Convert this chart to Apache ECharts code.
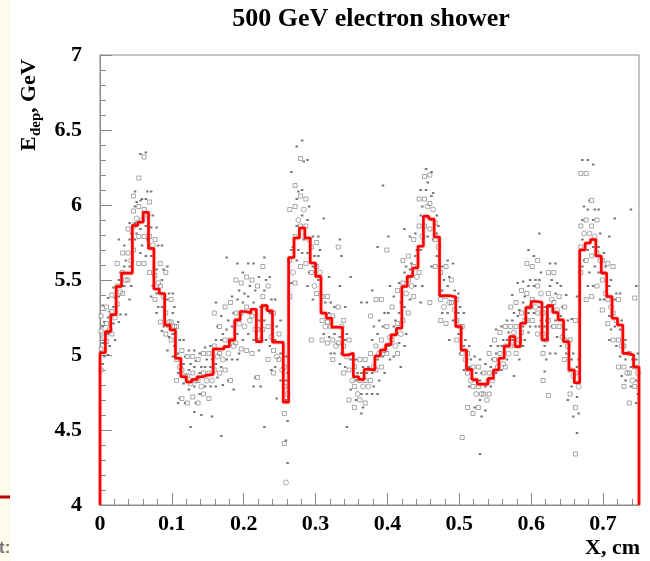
<!DOCTYPE html>
<html>
<head>
<meta charset="utf-8">
<script src="https://cdn.jsdelivr.net/npm/echarts@6/dist/echarts.min.js"></script>
<style>
html,body{margin:0;padding:0;background:#fff;}
#chart{width:650px;height:561px;}
</style>
</head>
<body>
<div id="chart"></div>
<script>
// ---- data ----
const titleText = '500 GeV electron shower';
const xTitle = 'X, cm';
const xRange = [0, 0.75];
const yRange = [4, 7];
const binWidth = 0.0075;

// histogram (red step line), one value per bin of width 0.0075 cm
const histValues = [
  5.015, 5.156, 5.268, 5.457, 5.546, 5.546, 5.863, 5.885, 5.952, 5.71,
  5.44, 5.41, 5.20, 5.167, 4.978, 4.855, 4.82, 4.837, 4.855, 4.866,
  4.87, 5.04, 5.04, 5.056, 5.10, 5.234, 5.29, 5.28, 5.305, 5.089,
  5.33, 5.295, 5.085, 5.085, 4.685, 5.65, 5.78, 5.847, 5.78, 5.613,
  5.524, 5.279, 5.245, 5.185, 5.185, 5.0, 5.011, 4.855, 4.837, 4.904,
  4.90, 4.993, 5.033, 5.069, 5.134, 5.178, 5.457, 5.524, 5.58, 5.725,
  5.925, 5.907, 5.787, 5.395, 5.395, 5.386, 5.19, 5.033, 4.904, 4.837,
  4.806, 4.806, 4.844, 4.90, 4.978, 5.06, 5.123, 5.056, 5.212, 5.317,
  5.357, 5.352, 5.10, 5.33, 5.283, 5.234, 5.089, 4.90, 4.815, 5.70,
  5.747, 5.77, 5.66, 5.546, 5.39, 5.245, 5.20, 5.011, 5.0, 4.92
];

// scattered event points (grey markers), listed per bin
const scatterByBin = [
  [5.33,5.26,5.22,5.19,5.16,5.12,5.08,5.04,4.99,4.94,4.90],
  [5.38,5.32,5.29,5.25,5.21,5.17,5.14,5.09,5.06,5.00],
  [5.45,5.40,5.38,5.32,5.29,5.25,5.21,5.14,5.10],
  [5.77,5.61,5.55,5.50,5.46,5.42,5.39,5.34,5.27,5.22],
  [5.73,5.68,5.63,5.59,5.55,5.50,5.46,5.41,5.27],
  [5.88,5.84,5.81,5.77,5.68,5.63,5.59,5.50,5.46,5.37],
  [6.09,6.06,6.02,5.99,5.96,5.91,5.88,5.86,5.81,5.77,5.70],
  [6.34,6.18,6.04,6.03,5.99,5.90,5.84,5.79,5.73,5.68,5.61],
  [6.35,6.32,6.09,6.04,5.97,5.93,5.86,5.79,5.77,5.66,5.61],
  [6.09,6.02,5.93,5.85,5.79,5.73,5.66,5.55,5.46,5.39],
  [5.85,5.77,5.73,5.57,5.53,5.48,5.41,5.37,5.32,5.28],
  [5.73,5.61,5.57,5.50,5.46,5.39,5.32,5.22,5.19,5.16],
  [5.59,5.55,5.41,5.37,5.28,5.22,5.19,5.14,5.12,5.03],
  [5.41,5.37,5.32,5.28,5.22,5.19,5.14,5.10,5.06,4.99],
  [5.22,5.19,5.10,5.01,4.97,4.92,4.88,4.83,4.71,4.68],
  [5.10,5.03,4.99,4.94,4.90,4.86,4.81,4.71,4.68],
  [5.03,4.99,4.94,4.90,4.86,4.81,4.77,4.68,4.52],
  [5.03,4.99,4.96,4.92,4.88,4.83,4.79,4.72,4.68,4.62],
  [5.01,4.97,4.92,4.88,4.83,4.79,4.74,4.68,4.60],
  [5.05,5.01,4.97,4.92,4.88,4.83,4.79,4.74],
  [5.06,5.01,4.97,4.92,4.88,4.83,4.79,4.71,4.59],
  [5.35,5.28,5.19,5.10,5.06,4.99,4.94,4.90,4.85,4.79],
  [5.26,5.19,5.14,5.10,5.01,4.97,4.92,4.88,4.80,4.46],
  [5.65,5.32,5.23,5.17,5.10,5.01,4.97,4.90,4.83],
  [5.39,5.35,5.28,5.19,5.10,5.06,4.97,4.83,4.77],
  [5.61,5.50,5.43,5.37,5.28,5.21,5.14,5.08,5.01,4.97],
  [5.55,5.48,5.41,5.35,5.28,5.19,5.10,5.04],
  [5.61,5.52,5.46,5.39,5.32,5.23,5.14,5.03],
  [5.61,5.50,5.43,5.35,5.26,5.17,5.10,5.01,4.85,4.79],
  [5.52,5.46,5.32,5.23,5.17,5.10,5.03,4.85,4.79],
  [5.65,5.59,5.50,5.43,5.39,5.32,5.23,5.17,5.10,4.52],
  [5.52,5.46,5.37,5.28,5.19,5.12,5.06,4.97,4.90],
  [5.37,5.28,5.19,5.10,5.03,4.99,4.92,4.88,4.71],
  [5.23,5.14,5.08,5.01,4.97,4.90,4.83],
  [4.99,4.92,4.88,4.83,4.79,4.74,4.70,4.61,4.56,4.43,4.41,4.28,4.15],
  [6.22,5.97,5.72,5.70,5.63,5.55,5.48,5.39],
  [6.39,6.13,6.09,6.04,5.99,5.90,5.86,5.79,5.70,5.63,5.48],
  [6.43,6.31,6.29,6.10,6.06,5.97,5.93,5.86,5.77,5.68,5.59],
  [6.30,6.04,5.99,5.90,5.86,5.77,5.68,5.61,5.55,5.46],
  [5.79,5.72,5.66,5.59,5.55,5.46,5.37,5.10],
  [5.79,5.75,5.70,5.66,5.59,5.55,5.50,5.41],
  [5.91,5.39,5.35,5.28,5.23,5.19,5.14,5.10],
  [5.52,5.39,5.35,5.28,5.22,5.19,5.12,5.08,5.01],
  [5.32,5.26,5.19,5.14,5.10,5.06,5.01,4.97],
  [5.77,5.72,5.66,5.46,5.32,5.19,5.12,5.08,5.01,4.94],
  [5.32,5.23,5.14,5.10,5.06,4.99,4.92,4.88,4.52],
  [5.52,5.10,5.01,4.97,4.90,4.83,4.77,4.70],
  [4.97,4.92,4.88,4.83,4.79,4.74,4.70,4.65],
  [5.35,4.97,4.92,4.88,4.83,4.79,4.74,4.70,4.65,4.61],
  [5.35,4.97,4.92,4.88,4.83,4.79,4.74,4.68],
  [5.43,5.26,5.19,5.10,5.01,4.92,4.88,4.83,4.79,4.74],
  [5.72,5.37,5.23,5.14,5.06,5.01,4.97,4.90,4.83,4.74],
  [6.13,5.37,5.28,5.19,5.10,5.03,4.99,4.92,4.88],
  [5.79,5.70,5.46,5.28,5.19,5.12,5.06,5.01,4.97],
  [5.39,5.32,5.23,5.19,5.10,5.06,4.99],
  [5.48,5.43,5.35,5.28,5.21,5.14,5.08,5.01,4.92],
  [5.84,5.63,5.59,5.55,5.48,5.41,5.32,5.23,5.14,5.06],
  [5.79,5.66,5.61,5.57,5.50,5.46,5.37,5.28],
  [5.81,5.77,5.70,5.66,5.59,5.52,5.46,5.39],
  [6.10,6.04,5.99,5.93,5.86,5.79,5.70,5.55,5.46,5.35],
  [6.24,6.19,6.15,6.10,6.04,5.99,5.93,5.86,5.79],
  [6.22,6.20,6.08,6.06,6.01,5.97,5.90,5.84,5.77,5.59,5.35],
  [5.93,5.88,5.86,5.81,5.77,5.72,5.66,5.59],
  [5.59,5.55,5.50,5.43,5.37,5.32,5.28,5.23],
  [5.63,5.59,5.52,5.46,5.39,5.35,5.28,5.21,5.10],
  [5.61,5.50,5.43,5.39,5.35,5.30,5.23],
  [5.41,5.37,5.32,5.28,5.23,5.19,5.14,5.10,5.01],
  [5.28,5.19,5.10,5.06,5.01,4.97,4.90,4.45],
  [5.06,5.01,4.97,4.92,4.88,4.83,4.79,4.65],
  [4.99,4.92,4.88,4.83,4.79,4.74,4.65,4.61],
  [4.97,4.92,4.88,4.83,4.79,4.74,4.70,4.65,4.59,4.34],
  [4.94,4.88,4.83,4.79,4.74,4.70,4.63],
  [5.06,5.01,4.97,4.92,4.88,4.83,4.79,4.74],
  [5.17,5.10,5.06,5.01,4.97,4.92,4.88],
  [5.19,5.15,5.10,5.06,5.01,4.94,4.90],
  [5.23,5.19,5.15,5.10,5.06,5.01,4.97,4.92],
  [5.40,5.32,5.28,5.23,5.19,5.15,5.10,5.06,4.86],
  [5.48,5.35,5.30,5.26,5.19,5.10,5.06,5.01,4.97],
  [5.49,5.43,5.39,5.35,5.28,5.23,5.19,5.15,5.10,5.06],
  [5.70,5.61,5.50,5.46,5.41,5.32,5.28,5.23,5.19,5.15],
  [5.66,5.59,5.50,5.46,5.37,5.32,5.28,5.23,5.19],
  [5.81,5.63,5.55,5.50,5.46,5.41,5.32,5.28,5.23,5.19,5.14],
  [5.32,5.28,5.23,5.19,5.14,5.10,5.06,5.01,4.97,4.89,4.83],
  [5.61,5.55,5.50,5.46,5.41,5.37,5.32,5.23,5.19,5.01,4.73],
  [5.61,5.55,5.48,5.41,5.35,5.30,5.23,5.19,5.12,5.01],
  [5.46,5.39,5.32,5.26,5.19,5.12,5.06],
  [5.40,5.32,5.23,5.17,5.10,5.06,5.01,4.97,4.70],
  [5.24,5.10,5.01,4.97,4.90,4.86,4.79,4.74,4.59],
  [5.39,5.23,4.97,4.92,4.88,4.79,4.72,4.65,4.61,4.48,4.34],
  [6.30,6.21,5.99,5.90,5.86,5.81,5.77,5.72,5.63,5.59,5.55],
  [6.30,6.21,6.03,5.97,5.90,5.81,5.70,5.63,5.55,5.46,5.37],
  [6.27,6.03,5.97,5.90,5.86,5.79,5.72,5.66,5.59,5.46,5.39],
  [5.97,5.90,5.81,5.72,5.68,5.63,5.55,5.46,5.37],
  [5.68,5.63,5.59,5.55,5.50,5.41,5.37,5.30],
  [5.79,5.61,5.50,5.46,5.37,5.32,5.26,5.21,5.17,5.10],
  [5.91,5.59,5.41,5.37,5.28,5.23,5.19,5.10,5.06],
  [5.41,5.37,5.23,5.17,5.10,5.06,4.99,4.92,4.86],
  [5.10,5.06,5.01,4.97,4.92,4.88,4.83,4.79],
  [5.97,5.01,4.97,4.92,4.88,4.83,4.79,4.68],
  [5.46,5.38,5.01,4.97,4.92,4.88,4.83,4.79,4.74,4.68]
];

// ---- build series data from the arrays ----
const histData = [[xRange[0], yRange[0]]];
histValues.forEach((v, k) => histData.push([k * binWidth, v]));
histData.push([histValues.length * binWidth, histValues[histValues.length - 1]]);
histData.push([histValues.length * binWidth, yRange[0]]);

const subCol = [0.5, 0.2, 0.8];
const dots = [], squares = [], circles = [];
scatterByBin.forEach((arr, k) => {
  arr.forEach((v, j) => {
    const p = [(k + subCol[j % 3]) * binWidth, v];
    if (j % 7 === 5) circles.push(p);
    else if (j % 3 === 1) squares.push(p);
    else dots.push(p);
  });
});

const serif = '"Liberation Serif", "DejaVu Serif", serif';
const frameColor = '#8a8a8a';

const chart = echarts.init(document.getElementById('chart'), null, {renderer: 'canvas'});
chart.setOption({
  animation: false,
  backgroundColor: '#ffffff',
  grid: {left: 100, right: 11, top: 55, bottom: 56, show: true, borderColor: frameColor, borderWidth: 1, backgroundColor: '#fff'},
  xAxis: {
    type: 'value', min: xRange[0], max: xRange[1], interval: 0.1,
    axisLine: {show: true, onZero: false, lineStyle: {color: frameColor, width: 1}},
    axisTick: {show: true, inside: true, length: 12, lineStyle: {color: frameColor}},
    minorTick: {show: true, splitNumber: 5, length: 6, lineStyle: {color: frameColor}},
    splitLine: {show: false},
    axisLabel: {
      show: true, margin: 8, color: '#000', fontFamily: serif, fontWeight: 'bold', fontSize: 22,
      showMaxLabel: false,
      formatter: v => (Math.abs(v) < 1e-9 ? '0' : v.toFixed(1))
    }
  },
  yAxis: {
    type: 'value', min: yRange[0], max: yRange[1], interval: 0.5,
    axisLine: {show: true, onZero: false, lineStyle: {color: frameColor, width: 1}},
    axisTick: {show: true, inside: true, length: 12, lineStyle: {color: frameColor}},
    minorTick: {show: true, splitNumber: 5, length: 6, lineStyle: {color: frameColor}},
    splitLine: {show: false},
    axisLabel: {
      show: true, margin: 18, color: '#000', fontFamily: serif, fontWeight: 'bold', fontSize: 22,
      formatter: v => String(Math.round(v * 10) / 10)
    }
  },
  series: [
    {
      type: 'scatter', data: dots, symbol: 'rect', symbolSize: [2.5, 2],
      itemStyle: {color: '#555'}, z: 2, silent: true
    },
    {
      type: 'scatter', data: squares, symbol: 'rect', symbolSize: 4,
      itemStyle: {color: '#fff', borderColor: '#777', borderWidth: 0.8}, z: 2, silent: true
    },
    {
      type: 'scatter', data: circles, symbol: 'circle', symbolSize: 5,
      itemStyle: {color: 'rgba(255,255,255,0)', borderColor: '#777', borderWidth: 0.8}, z: 2, silent: true
    },
    {
      type: 'line', data: histData, step: 'end', showSymbol: false, symbol: 'none',
      lineStyle: {color: '#ff0000', width: 2.6, shadowColor: 'rgba(255,0,0,0.45)', shadowBlur: 2},
      z: 5, silent: true, clip: false
    }
  ],
  graphic: [
    {type: 'rect', shape: {x: 0, y: 0, width: 10, height: 561}, style: {fill: '#fffbec'}, z: 0},
    {type: 'rect', shape: {x: 0, y: 495.5, width: 10, height: 3}, style: {fill: '#c00000'}, z: 1},
    {type: 'text', x: -1, y: 548, style: {text: 't:', font: 'bold 17px "Liberation Sans", sans-serif', fill: '#777', verticalAlign: 'middle'}},
    {type: 'text', x: 371, y: 19, style: {text: titleText, font: 'bold 26px ' + serif, fill: '#000', align: 'center', verticalAlign: 'middle'}},
    {type: 'text', x: 640, y: 548, style: {text: xTitle, font: 'bold 22px ' + serif, fill: '#000', align: 'right', verticalAlign: 'middle'}},
    {
      type: 'group', x: 29, y: 151, rotation: Math.PI / 2,
      children: [
        {type: 'text', x: 0, y: 0, style: {text: 'E', font: 'bold 22px ' + serif, fill: '#000', align: 'left', verticalAlign: 'middle'}},
        {type: 'text', x: 15, y: 7, style: {text: 'dep', font: 'bold 15px ' + serif, fill: '#000', align: 'left', verticalAlign: 'middle'}},
        {type: 'text', x: 38, y: 0, style: {text: ', GeV', font: 'bold 22px ' + serif, fill: '#000', align: 'left', verticalAlign: 'middle'}}
      ]
    }
  ]
});
</script>
</body>
</html>
